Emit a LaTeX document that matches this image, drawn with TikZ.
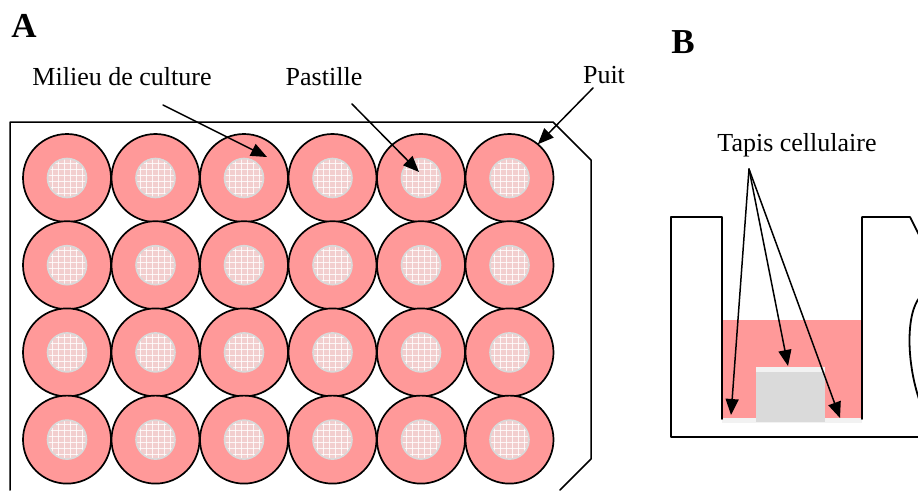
\documentclass[tikz,border=0pt]{standalone}
\usepackage{fontspec}
\setmainfont{Liberation Serif}
\usetikzlibrary{arrows.meta}
\definecolor{medium}{HTML}{FF9999}
\definecolor{pelletfill}{HTML}{F2CECE}
\definecolor{pelletrim}{HTML}{D9D9D9}
\definecolor{cellmat}{HTML}{F2F2F2}
\definecolor{insertbox}{HTML}{DADADA}
\tikzset{
  every picture/.style={line join=round, line cap=round, >={Triangle[length=16pt,width=13pt]}},
  well/.style={circle, draw, line width=1.7pt, fill=medium, minimum size=88pt, inner sep=0pt, outer sep=0pt},
  pellet/.style={fill=pelletfill, draw=pelletrim, line width=1.6pt},
  txt/.style={font=\fontsize{26}{30}\selectfont, anchor=base, inner sep=0pt},
  panel/.style={font=\fontsize{35}{40}\selectfont\bfseries, anchor=base, inner sep=0pt},
  pointer/.style={->, line width=1.5pt},
  wall/.style={line width=1.8pt},
}

\begin{document}
\begin{tikzpicture}[x=1pt,y=-1pt]
\useasboundingbox (0,0) rectangle (918,490);
% plaque 24 puits
\draw[line width=1.5pt] (10,490) -- (10,122) -- (553,122) -- (591,160) -- (591,459) -- (560,490);
\foreach \i in {0,...,5}{
  \foreach \j in {0,...,3}{
    \node[well] (w\i\j) at (67+88.5*\i,178+87.2*\j) {};
    \begin{scope}[shift={(w\i\j)}]
      \fill[pelletfill] (0,0) circle (19.5);
      \begin{scope}
        \clip (0,0) circle (19.5);
        \foreach \d in {-15,-9,...,15}{
          \draw[white,opacity=0.8,line width=0.5pt] (\d,-20) -- (\d,20);
          \draw[white,opacity=0.8,line width=0.5pt] (-20,\d) -- (20,\d);
        }
      \end{scope}
      \draw[pellet,fill=none] (0,0) circle (19.5);
    \end{scope}
  }
}
\node[panel] (A) at (24,37) {A};
\node[txt] (milieu) at (122,85) {Milieu de culture};
\node[txt] (pastille) at (324,85) {Pastille};
\node[txt] (puit) at (604,83) {Puit};
\coordinate (milieu-tail) at (163,105);
\coordinate (milieu-head) at (267,157);
\coordinate (pastille-tail) at (352,104);
\coordinate (pastille-head) at (419,172);
\coordinate (puit-tail) at (593,88);
\draw[pointer] (milieu-tail) -- (milieu-head);
\draw[pointer] (pastille-tail) -- (pastille-head);
\draw[pointer] (puit-tail) -- (w50.50);
% coupe d'un puit
\node[panel] (B) at (683,53) {B};
\node[txt] (tapis) at (797,151) {Tapis cellulaire};
\fill[medium] (722,320) rectangle (862,418);
\fill[cellmat] (722,418) rectangle (862,423);
\fill[insertbox] (756,367) rectangle (825,422);
\fill[cellmat] (756,367) rectangle (825,372);
\draw[wall] (920,437) -- (671,437) -- (671,217) -- (722,217) -- (722,419);
\draw[wall] (862,419) -- (862,217) -- (910,217) -- (919,235);
\draw[wall] (920,297) .. controls (906,313) and (906,362) .. (920,402);
\coordinate (tapis-tail) at (749,169);
\coordinate (tapis-left) at (731,415);
\coordinate (tapis-top) at (788,366);
\coordinate (tapis-right) at (840,418);
\foreach \h in {left,top,right}{\draw[pointer] (tapis-tail) -- (tapis-\h);}
\end{tikzpicture}
\end{document}
